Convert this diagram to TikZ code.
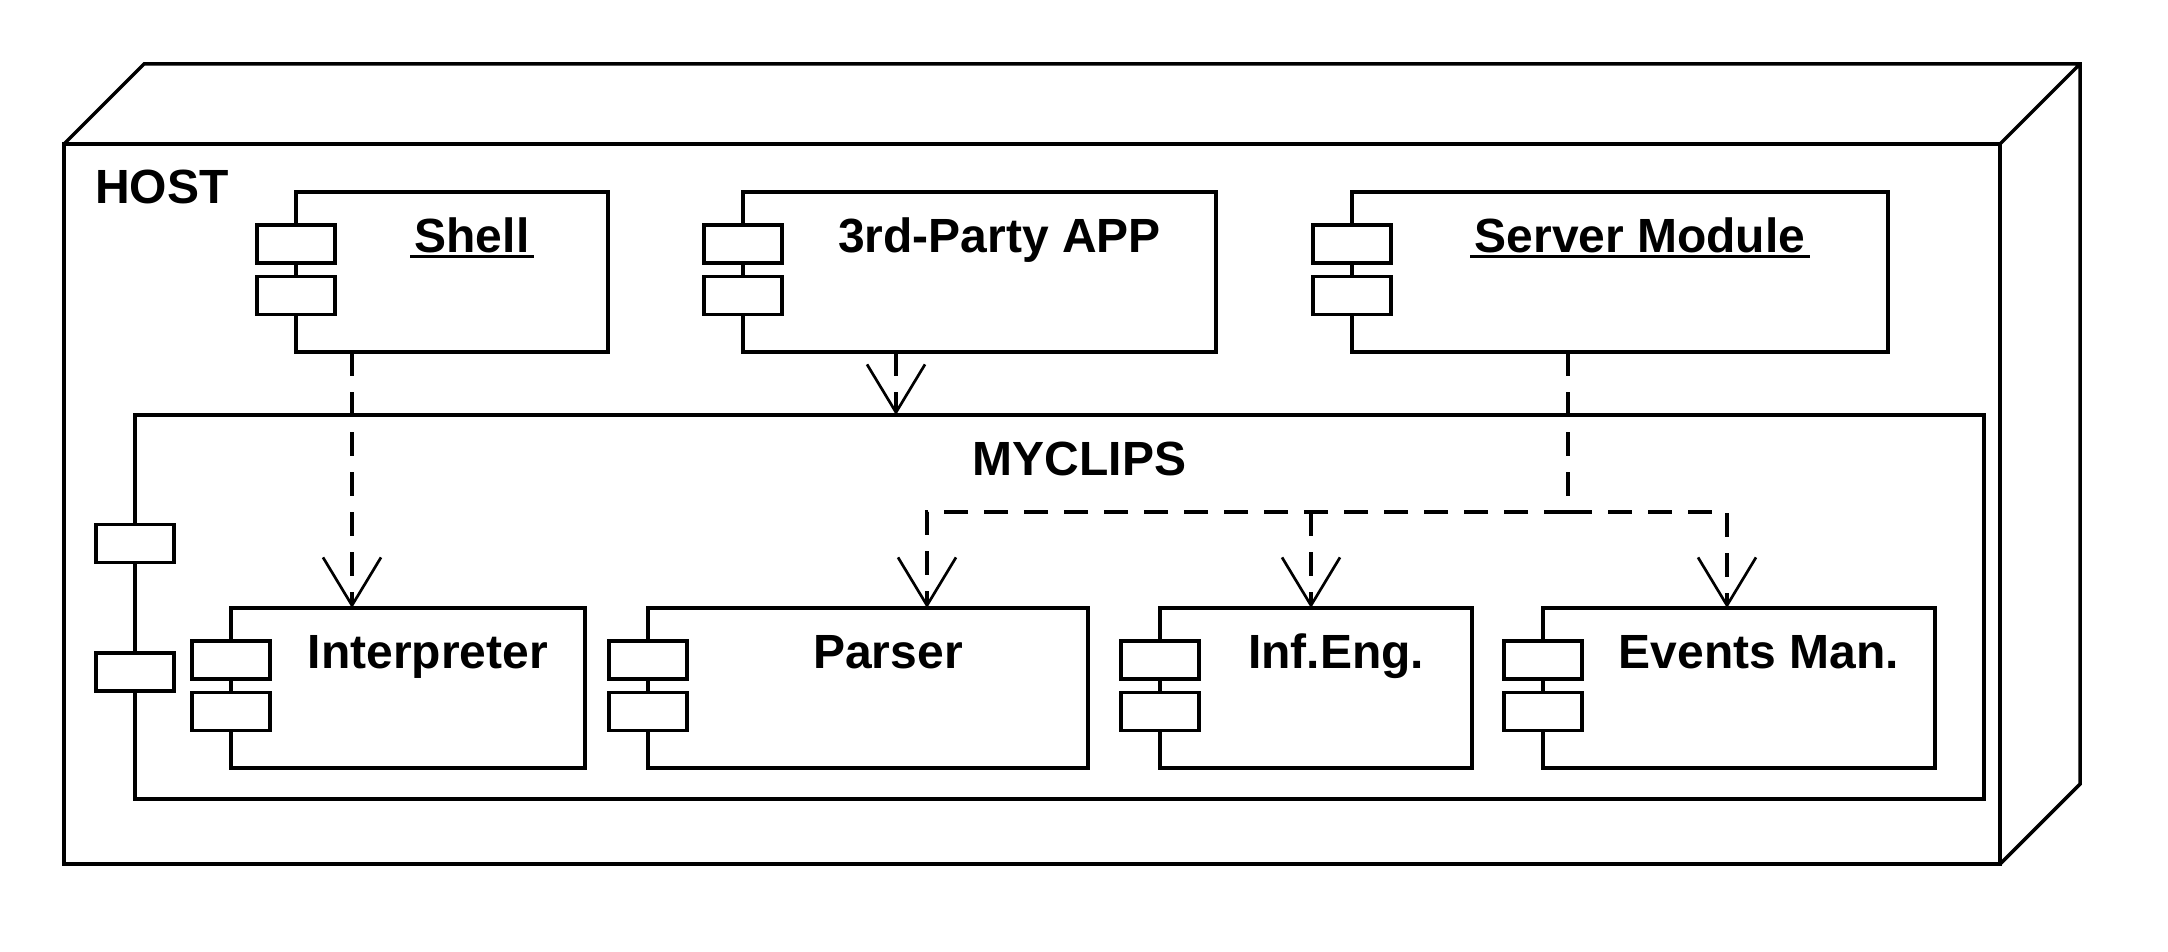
\documentclass[tikz,border=0pt]{standalone}
\usepackage{fontspec}
\setmainfont{Liberation Sans}
\usetikzlibrary{arrows.meta}
\tikzset{
  edge/.style={line width=3.5pt, line join=miter},
  box/.style={draw, line width=3.5pt, fill=white, inner sep=0pt, outer sep=0pt, anchor=north west},
  port/.style={draw, line width=3.5pt, fill=white, inner sep=0pt, outer sep=0pt, minimum width=78pt, minimum height=38pt},
  lbl/.style={font=\fontsize{48}{58}\selectfont\bfseries, inner sep=0pt, anchor=base},
  uline/.style={line width=3pt},
  dline/.style={line width=3.5pt, dash pattern=on 24pt off 16pt},
  dep/.style={dline, -{Straight Barb[length=48pt,width=58pt,line width=2.7pt]}},
}
\begin{document}
\begin{tikzpicture}[x=1pt,y=-1pt]
\useasboundingbox (0,0) rectangle (2168,952);
% host node
\node[box, minimum width=1936pt, minimum height=720pt] (host) at (64,144) {};
\draw[edge] (host.north west) -- ++(80pt,80pt) -- ([shift={(80pt,80pt)}]host.north east)
  -- ([shift={(80pt,80pt)}]host.south east) -- (host.south east)
  (host.north east) -- ++(80pt,80pt);
\node[lbl, anchor=base west] (hostlbl) at (95,204) {HOST};
% top components
\node[box, minimum width=312pt, minimum height=160pt] (shell) at (296,192) {};
\node[box, minimum width=473pt, minimum height=160pt] (app) at (743,192) {};
\node[box, minimum width=536pt, minimum height=160pt] (srv) at (1352,192) {};
% MYCLIPS
\node[box, minimum width=1849pt, minimum height=384pt] (myclips) at (135,415) {};
\node[port] (myclips-p1) at ([yshift=-128.6pt]myclips.north west) {};
\node[port] (myclips-p2) at ([yshift=-256.8pt]myclips.north west) {};
\node[lbl] (myclipslbl) at ([xshift=20pt,yshift=-60pt]myclips.north) {MYCLIPS};
% inner components
\node[box, minimum width=354pt, minimum height=160pt] (interp) at (231,608) {};
\node[box, minimum width=440pt, minimum height=160pt] (parser) at (648,608) {};
\node[box, minimum width=312pt, minimum height=160pt] (inf) at (1160,608) {};
\node[box, minimum width=392pt, minimum height=160pt] (events) at (1543,608) {};
\foreach \n in {shell,app,srv,interp,parser,inf,events}{
  \node[port] (\n-p1) at ([yshift=-52pt]\n.north west) {};
  \node[port] (\n-p2) at ([yshift=-103.5pt]\n.north west) {};
}
\node[lbl] (shelllbl) at ([xshift=20pt,yshift=-60pt]shell.north) {Shell};
\node[lbl] (applbl) at ([xshift=20pt,yshift=-60pt]app.north) {3rd-Party APP};
\node[lbl] (srvlbl) at ([xshift=20pt,yshift=-60pt]srv.north) {Server Module};
\draw[uline] ([xshift=-4pt,yshift=-4pt]shelllbl.base west) -- ([xshift=4pt,yshift=-4pt]shelllbl.base east);
\draw[uline] ([xshift=-4pt,yshift=-4pt]srvlbl.base west) -- ([xshift=4pt,yshift=-4pt]srvlbl.base east);
\node[lbl] (interplbl) at ([xshift=20pt,yshift=-60pt]interp.north) {Interpreter};
\node[lbl] (parserlbl) at ([xshift=20pt,yshift=-60pt]parser.north) {Parser};
\node[lbl] (inflbl) at ([xshift=20pt,yshift=-60pt]inf.north) {Inf.Eng.};
\node[lbl] (eventslbl) at ([xshift=20pt,yshift=-60pt]events.north) {Events Man.};
% connectors
\coordinate (xa) at (352,0);
\coordinate (xb) at (896,0);
\coordinate (xs) at (1568,0);
\coordinate (xp) at (927,0);
\coordinate (xi) at (1311,0);
\coordinate (xe) at (1727,0);
\coordinate (j) at (1568,512);
\draw[dep] (shell.south -| xa) -- (interp.north -| xa);
\draw[dep] (app.south -| xb) -- (myclips.north -| xb);
\draw[dline] (srv.south -| xs) -- (j);
\draw[dep] (j) -| (parser.north -| xp);
\draw[dep] (j) -| (events.north -| xe);
\draw[dep] (j -| xi) -- (inf.north -| xi);
\end{tikzpicture}
\end{document}
